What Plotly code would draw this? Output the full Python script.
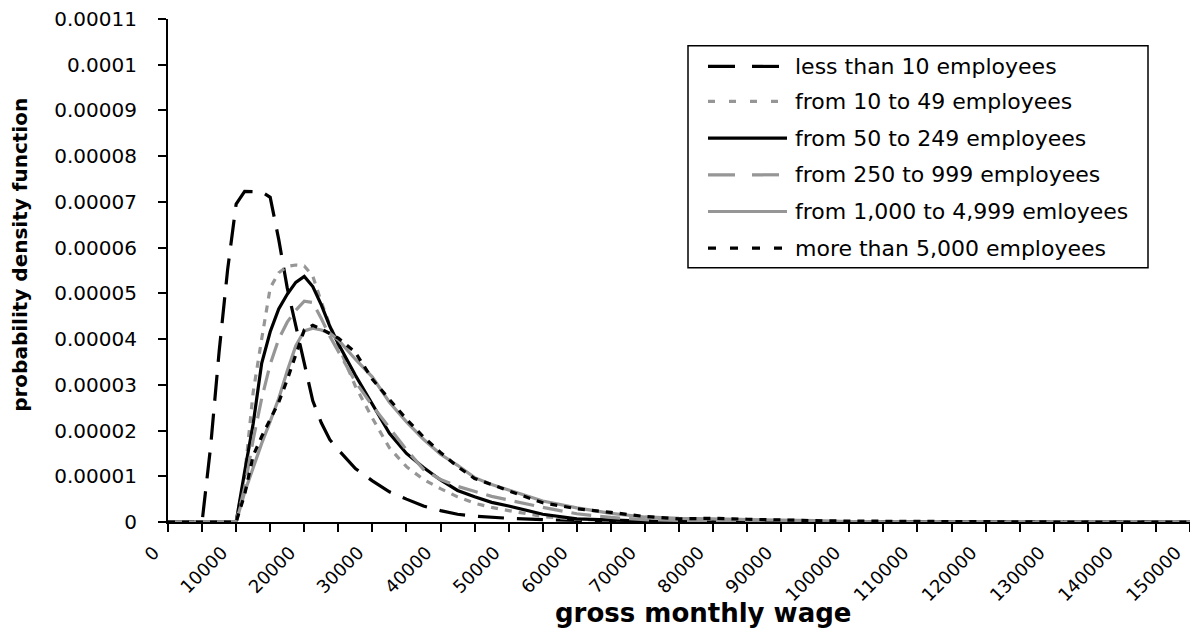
import plotly.graph_objects as go

# ---------------- data (density values in units of 1e-5) ----------------
wage = [0, 2500, 5000, 6250, 7500, 8750, 10000, 11250, 12500, 13750, 15000,
        16250, 17500, 18750, 20000, 21250, 22500, 23750, 25000, 27500, 30000,
        32500, 35000, 37500, 40000, 42500, 45000, 47500, 50000, 55000, 60000,
        65000, 70000, 75000, 80000, 85000, 90000, 95000, 100000, 110000,
        120000, 130000, 140000, 150000]

less_than_10 = [0, 0, 0, 1.64, 3.72, 5.52, 6.95, 7.23, 7.23, 7.22, 7.1,
                6.18, 5.12, 4.28, 3.49, 2.65, 2.17, 1.8, 1.58, 1.17, 0.9,
                0.66, 0.5, 0.35, 0.25, 0.17, 0.13, 0.1, 0.08, 0.05, 0.03,
                0.02, 0.01, 0.01, 0.01, 0, 0, 0, 0, 0, 0, 0, 0, 0]

from_10_to_49 = [0, 0, 0, 0, 0, 0, 0, 1.0, 2.84, 4.0, 5.12,
                 5.45, 5.59, 5.62, 5.6, 5.38, 4.81, 4.3, 3.85, 2.97, 2.27,
                 1.62, 1.21, 0.93, 0.73, 0.55, 0.41, 0.32, 0.25, 0.12, 0.06,
                 0.03, 0.02, 0.01, 0.01, 0, 0, 0, 0, 0, 0, 0, 0, 0]

from_50_to_249 = [0, 0, 0, 0, 0, 0, 0, 1.1, 2.15, 3.47, 4.16,
                  4.66, 4.98, 5.24, 5.37, 5.15, 4.75, 4.28, 3.9, 3.21, 2.59,
                  1.94, 1.5, 1.19, 0.92, 0.69, 0.55, 0.43, 0.35, 0.17, 0.07,
                  0.04, 0.02, 0.01, 0, 0, 0, 0, 0, 0, 0, 0, 0, 0]

from_250_to_999 = [0, 0, 0, 0, 0, 0, 0, 0.75, 1.8, 2.7, 3.45,
                   4.0, 4.37, 4.63, 4.83, 4.8, 4.45, 4.06, 3.73, 3.07, 2.54,
                   2.06, 1.58, 1.15, 0.93, 0.78, 0.67, 0.56, 0.48, 0.32, 0.18,
                   0.1, 0.05, 0.03, 0.02, 0.01, 0, 0, 0, 0, 0, 0, 0, 0]

from_1000_to_4999 = [0, 0, 0, 0, 0, 0, 0, 0.65, 1.2, 1.72, 2.2,
                     2.7, 3.3, 3.85, 4.18, 4.24, 4.2, 4.13, 3.98, 3.56, 3.17,
                     2.62, 2.19, 1.81, 1.48, 1.24, 0.97, 0.82, 0.7, 0.46, 0.31,
                     0.19, 0.11, 0.08, 0.07, 0.05, 0.04, 0.03, 0.01, 0, 0, 0, 0, 0]

more_than_5000 = [0, 0, 0, 0, 0, 0, 0, 0.6, 1.45, 1.87, 2.24,
                  2.62, 3.11, 3.66, 4.2, 4.3, 4.22, 4.12, 4.02, 3.71, 3.12,
                  2.68, 2.25, 1.86, 1.52, 1.21, 0.95, 0.82, 0.68, 0.42, 0.29,
                  0.21, 0.12, 0.07, 0.08, 0.06, 0.04, 0.03, 0.02, 0.01, 0, 0, 0, 0]

series_names = ["less than 10 employees", "from 10 to 49 employees",
                "from 50 to 249 employees", "from 250 to 999 employees",
                "from 1,000 to 4,999 emloyees", "more than 5,000 employees"]

x_tick_values = list(range(0, 150001, 10000))
x_tick_labels = [str(v) for v in x_tick_values]
y_tick_values = [i * 1e-5 for i in range(12)]
y_tick_labels = ["0", "0.00001", "0.00002", "0.00003", "0.00004", "0.00005",
                 "0.00006", "0.00007", "0.00008", "0.00009", "0.0001", "0.00011"]

# ---------------- styles ----------------
BLACK = "#000000"
GRAY = "#969696"
series_data = [less_than_10, from_10_to_49, from_50_to_249,
               from_250_to_999, from_1000_to_4999, more_than_5000]
colors = [BLACK, GRAY, BLACK, GRAY, GRAY, BLACK]
plot_dashes = ["26px,13px", "7px,7px", "solid", "20px,9px", "solid", "7px,7px"]
legend_dashes = ["27px,17px", "7px,14px", "solid", "27px,17px", "solid", "8px,14px"]
FONT = "DejaVu Sans"

fig = go.Figure()
for name, vals, col, dash in zip(series_names, series_data, colors, plot_dashes):
    fig.add_trace(go.Scatter(
        x=wage, y=[v * 1e-5 for v in vals], mode="lines", name=name,
        line=dict(color=col, width=3.2, dash=dash), showlegend=False))

# plot area in pixels
L, R, T, B = 168, 1190, 19.3, 522.0


def px(x):
    return (x - L) / (R - L)


def py(y):
    return (B - y) / (B - T)


shapes = []
annotations = []
# legend box
shapes.append(dict(type="rect", xref="paper", yref="paper",
                   x0=px(688), x1=px(1148), y0=py(46), y1=py(268),
                   line=dict(color=BLACK, width=1.5), fillcolor="white", layer="above"))
row_y = [66.7, 101.7, 138.3, 175, 211.7, 248.3]
for name, col, dash, ry in zip(series_names, colors, legend_dashes, row_y):
    shapes.append(dict(type="line", xref="paper", yref="paper",
                       x0=px(708), x1=px(787), y0=py(ry), y1=py(ry),
                       line=dict(color=col, width=3.2, dash=dash), layer="above"))
    annotations.append(dict(text=name, xref="paper", yref="paper",
                            x=px(793), y=py(ry), xanchor="left", yanchor="middle",
                            showarrow=False, font=dict(family=FONT, size=22, color=BLACK)))

# axis titles
annotations.append(dict(text="<b>gross monthly wage</b>", xref="paper", yref="paper",
                        x=px(703), y=py(613), xanchor="center", yanchor="middle",
                        showarrow=False, font=dict(family=FONT, size=26, color=BLACK)))
annotations.append(dict(text="<b>probability density function</b>", xref="paper", yref="paper",
                        x=px(20), y=py(255), xanchor="center", yanchor="middle",
                        textangle=-90, showarrow=False,
                        font=dict(family=FONT, size=20, color=BLACK)))

fig.update_layout(
    width=1190, height=639,
    margin=dict(l=168, r=0, t=19, b=117, pad=0),
    paper_bgcolor="white", plot_bgcolor="white",
    showlegend=False,
    shapes=shapes, annotations=annotations,
    xaxis=dict(range=[0, 150000], tickmode="array", tickvals=x_tick_values,
               ticktext=x_tick_labels, tickangle=-45, ticks="outside", ticklen=8,
               tickwidth=2, tickcolor=BLACK, showline=True, linecolor=BLACK,
               linewidth=2, showgrid=False, zeroline=False,
               ticklabeloverflow="allow", ticklabelshift=-14, ticklabelstandoff=3,
               tickfont=dict(family=FONT, size=18, color=BLACK),
               minor=dict(tick0=0, dtick=5000, ticks="outside", ticklen=8,
                          tickwidth=2, tickcolor=BLACK, showgrid=False)),
    yaxis=dict(range=[0, 0.00011], tickmode="array", tickvals=y_tick_values,
               ticktext=y_tick_labels, ticks="outside", ticklen=8, tickwidth=2,
               tickcolor=BLACK, showline=True, linecolor=BLACK, linewidth=2,
               showgrid=False, zeroline=False, ticklabelstandoff=17,
               tickfont=dict(family=FONT, size=20, color=BLACK)),
    yaxis2=dict(range=[0, 0.00011], overlaying="y", anchor="x", side="left",
                tickmode="array", tickvals=y_tick_values, ticks="inside",
                ticklen=7, tickwidth=2, tickcolor=BLACK, showticklabels=False,
                showline=False, showgrid=False, zeroline=False),
)

fig.write_html("out.html")
